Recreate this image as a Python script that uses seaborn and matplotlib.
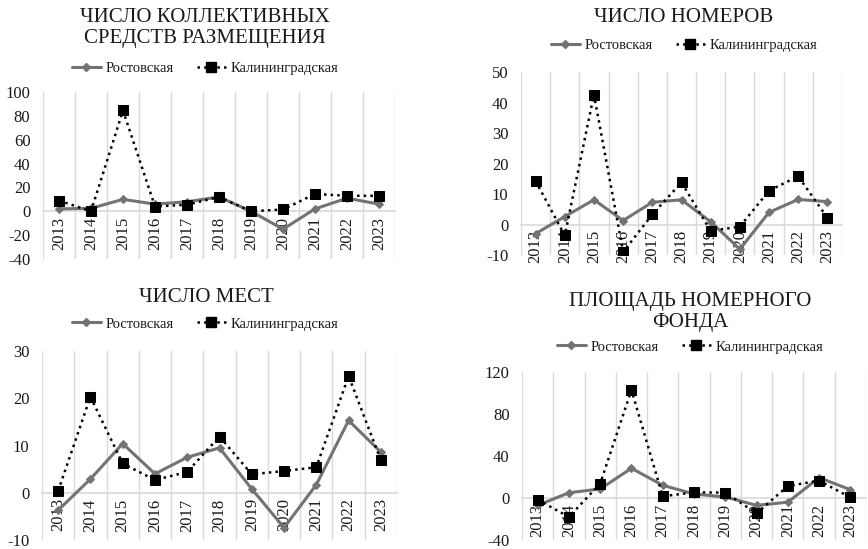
import numpy as np
import pandas as pd
import matplotlib
matplotlib.use("Agg")
import matplotlib.pyplot as plt
from matplotlib.lines import Line2D
import seaborn as sns

# ---------------- data ----------------
years = ["2013", "2014", "2015", "2016", "2017", "2018", "2019", "2020", "2021", "2022", "2023"]
series_names = ["Ростовская", "Калининградская"]

# ЧИСЛО КОЛЛЕКТИВНЫХ СРЕДСТВ РАЗМЕЩЕНИЯ
ksr_rostov = [2, 2.5, 10, 6, 8, 12, 0, -15, 2, 11, 6]
ksr_kalin = [9, 0, 84.5, 4, 5.5, 12, 0, 1.5, 14.5, 13, 13]

# ЧИСЛО НОМЕРОВ
nomera_rostov = [-3, 2.6, 8.1, 1.3, 7.3, 8.1, 0.9, -8.1, 4, 8.2, 7.5]
nomera_kalin = [14.3, -3.6, 42.6, -9, 3.3, 13.8, -2.1, -0.7, 11.1, 15.8, 2.2]

# ЧИСЛО МЕСТ
mesta_rostov = [-3.7, 2.9, 10.4, 4, 7.5, 9.5, 0.8, -7.4, 1.7, 15.3, 8.6]
mesta_kalin = [0.4, 20.3, 6.2, 2.7, 4.4, 11.9, 3.9, 4.6, 5.4, 24.7, 6.9]

# ПЛОЩАДЬ НОМЕРНОГО ФОНДА
ploshad_rostov = [-7, 5, 8.6, 28.3, 12.1, 3.8, 1, -7, -4, 19.4, 7.9]
ploshad_kalin = [-1.6, -18, 13.7, 102.9, 1.6, 5.4, 5.1, -14.6, 11.4, 16.5, 0.6]

titles = ["ЧИСЛО КОЛЛЕКТИВНЫХ\nСРЕДСТВ РАЗМЕЩЕНИЯ", "ЧИСЛО НОМЕРОВ",
          "ЧИСЛО МЕСТ", "ПЛОЩАДЬ НОМЕРНОГО\nФОНДА"]
y_ticks = [[-40, -20, 0, 20, 40, 60, 80, 100],
           [-10, 0, 10, 20, 30, 40, 50],
           [-10, 0, 10, 20, 30],
           [-40, 0, 40, 80, 120]]

# ---------------- style ----------------
sns.set_theme(style="white")
plt.rcParams["font.family"] = ["Liberation Serif", "DejaVu Serif"]

W, H = 868, 549
fig = plt.figure(figsize=(W / 100, H / 100), dpi=100)

GRAY = "#737373"
GRID = "#d9d9d9"
TXT = "#1a1a1a"

# pixel boxes: left, top, right, bottom
boxes = [(43, 92, 395, 259), (521, 72, 842, 255), (42, 351, 397, 540), (522, 372, 866, 540)]
title_pos = [(205, 28), (684, 17), (206, 297), (690, 312)]
legend_pos = [(205, 68), (684, 45), (205, 324), (690, 347)]

data_sets = [(ksr_rostov, ksr_kalin), (nomera_rostov, nomera_kalin),
             (mesta_rostov, mesta_kalin), (ploshad_rostov, ploshad_kalin)]

for i, (box, (ros, kal)) in enumerate(zip(boxes, data_sets)):
    l, t, r, b = box
    ax = fig.add_axes([l / W, 1 - b / H, (r - l) / W, (b - t) / H])
    df = pd.DataFrame({"year": years * 2,
                       "value": list(ros) + list(kal),
                       "region": [series_names[0]] * len(years) + [series_names[1]] * len(years)})
    sns.lineplot(data=df[df.region == series_names[0]], x="year", y="value", ax=ax,
                 color=GRAY, lw=2.2, marker="D", markersize=4.5,
                 markeredgecolor=GRAY, sort=False, zorder=3)
    sns.lineplot(data=df[df.region == series_names[1]], x="year", y="value", ax=ax,
                 color="black", lw=1.8, linestyle=":", marker="s", markersize=6.5,
                 markeredgecolor="black", sort=False, zorder=4)
    n = len(years)
    ax.set_xlim(-0.5, n - 0.5)
    yt = y_ticks[i]
    ax.set_ylim(yt[0], yt[-1])
    ax.set_yticks(yt)
    ax.set_yticklabels([str(v) for v in yt])
    ax.set_xticks(range(n))
    ax.set_xticklabels(years)
    ax.set_xticks(np.arange(-0.5, n, 1.0), minor=True)
    ax.grid(False)
    ax.grid(which="minor", axis="x", color=GRID, lw=1)
    ax.set_axisbelow(True)
    for s in ["top", "right", "left"]:
        ax.spines[s].set_visible(False)
    ax.spines["bottom"].set_position(("data", 0))
    ax.spines["bottom"].set_color(GRID)
    ax.spines["bottom"].set_linewidth(1.2)
    ax.tick_params(axis="x", which="both", length=0, pad=4, labelrotation=90,
                   labelsize=12, labelcolor=TXT)
    ax.tick_params(axis="y", which="both", length=0, pad=9, labelsize=12, labelcolor=TXT)
    ax.set_xlabel("")
    ax.set_ylabel("")
    if ax.get_legend():
        ax.get_legend().remove()
    ax.patch.set_alpha(0)

    tx, ty = title_pos[i]
    fig.text(tx / W, 1 - ty / H, titles[i], ha="center", va="center",
             fontsize=15, color=TXT, linespacing=1.1)
    handles = [Line2D([], [], color=GRAY, lw=2.2, marker="D", markersize=4.5,
                      markeredgecolor=GRAY),
               Line2D([], [], color="black", lw=1.8, linestyle=":", marker="s",
                      markersize=6.5, markeredgecolor="black")]
    lx, ly = legend_pos[i]
    fig.legend(handles, series_names, loc="center",
               bbox_to_anchor=(lx / W, 1 - ly / H), ncol=2, frameon=False,
               fontsize=10.5, handlelength=2.0, handletextpad=0.3, columnspacing=1.6,
               labelcolor=TXT)

fig.savefig("out.png", dpi=100, facecolor="white")
